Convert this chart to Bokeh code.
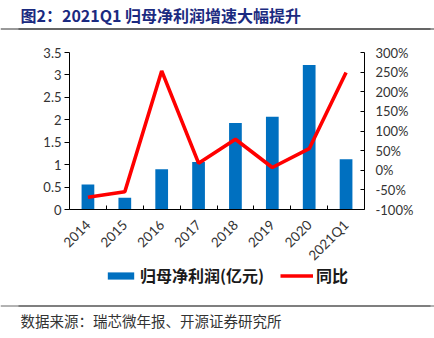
from bokeh.plotting import figure
from bokeh.models import (Range1d, LinearAxis, FixedTicker, SingleIntervalTicker,
                          CustomJSTickFormatter, Legend, LegendItem, ColumnDataSource,
                          Label, Span)
from bokeh.embed import file_html
from bokeh.resources import INLINE
import math

title_text = "图2：2021Q1 归母净利润增速大幅提升"
source_text = "数据来源：瑞芯微年报、开源证券研究所"
categories = ["2014", "2015", "2016", "2017", "2018", "2019", "2020", "2021Q1"]
profit = [0.56, 0.26, 0.90, 1.06, 1.93, 2.07, 3.22, 1.12]
yoy = [-69, -55, 253, 18, 79, 7, 55, 249]
bar_name = "归母净利润(亿元)"
line_name = "同比"

TICK_FONT = "Lato"
CJK = "Noto Sans CJK SC"

# canvas layout (pixels)
W, H = 434, 338
PL, PR, PT, PB = 69, 364, 52, 209          # plot area edges
N = len(categories)
Y_MAX, P_MIN, P_MAX = 3.5, -100, 300

kx = N / (PR - PL)
ky = Y_MAX / (PB - PT)
kp = (P_MAX - P_MIN) / (PB - PT)


def dx(px):
    return (px - PL) * kx


def dy(py):
    return (PB - py) * ky


xs = [i + 0.5 for i in range(N)]
src = ColumnDataSource(dict(x=xs, profit=profit, yoy=yoy))

p = figure(frame_width=W, frame_height=H, min_border=0, output_backend="svg",
           toolbar_location=None,
           x_range=Range1d(dx(0), dx(W)), y_range=Range1d(dy(H), dy(0)),
           x_axis_location=None, y_axis_location=None,
           background_fill_color="white", border_fill_color="white")
p.outline_line_color = None
p.xgrid.visible = False
p.ygrid.visible = False
p.extra_y_ranges = {"pct": Range1d(P_MIN - (H - PB) * kp, P_MAX + PT * kp)}

# page rules (title underline and footer separator)
rules = ColumnDataSource(dict(x0=[dx(18), dx(18)], x1=[dx(430), dx(430)],
                              y=[dy(28.5), dy(305.5)]))
p.segment(x0="x0", x1="x1", y0="y", y1="y", source=rules, line_color="#333333", line_width=1.2)
p.add_layout(Span(location=dy(28.5), dimension="width", line_color="#333333", line_width=1))
p.add_layout(Span(location=dy(305.5), dimension="width", line_color="#666666", line_width=1))

bars = p.vbar(x="x", top="profit", width=0.345, source=src, fill_color="#0070C0", line_color=None)
line = p.line(x="x", y="yoy", source=src, y_range_name="pct", line_color="#FF0000", line_width=3.6)

# x axis
xa = LinearAxis(fixed_location=0, bounds=(0, N),
                ticker=FixedTicker(ticks=xs, minor_ticks=list(range(1, N))),
                formatter=CustomJSTickFormatter(args=dict(labels=categories),
                                                code="return labels[Math.floor(tick)];"))
xa.major_label_orientation = math.pi / 4
xa.major_tick_in = 0
xa.major_tick_out = 0
xa.minor_tick_in = 4
xa.minor_tick_out = 0
xa.minor_tick_line_color = "black"
xa.axis_line_color = "black"
xa.major_label_text_font = TICK_FONT
xa.major_label_text_font_size = "13.5px"
xa.major_label_text_color = "#333333"
xa.major_label_standoff = 13
p.add_layout(xa, "below")

# left axis
ya = LinearAxis(fixed_location=0, bounds=(0, Y_MAX),
                ticker=SingleIntervalTicker(interval=0.5, num_minor_ticks=0),
                formatter=CustomJSTickFormatter(code="return String(Math.round(tick*10)/10);"))
ya.major_tick_in = 0
ya.major_tick_out = 5
ya.minor_tick_in = 0
ya.minor_tick_out = 0
ya.axis_line_color = "black"
ya.major_tick_line_color = "black"
ya.major_label_text_font = TICK_FONT
ya.major_label_text_font_size = "13px"
ya.major_label_text_color = "#333333"
ya.major_label_standoff = 3
p.add_layout(ya, "left")

# right axis
ra = LinearAxis(y_range_name="pct", fixed_location=N, bounds=(P_MIN, P_MAX),
                ticker=SingleIntervalTicker(interval=50, num_minor_ticks=0),
                formatter=CustomJSTickFormatter(code="return Math.round(tick) + '%';"))
ra.major_tick_in = 4
ra.major_tick_out = 0
ra.minor_tick_in = 0
ra.minor_tick_out = 0
ra.axis_line_color = "black"
ra.major_tick_line_color = "black"
ra.major_label_text_font = TICK_FONT
ra.major_label_text_font_size = "13px"
ra.major_label_text_color = "#333333"
ra.major_label_standoff = 11
p.add_layout(ra, "right")

# legend (screen px from frame bottom-left)
legend = Legend(items=[LegendItem(label=bar_name, renderers=[bars]),
                       LegendItem(label=line_name, renderers=[line])],
                orientation="horizontal", location=(104, H - 287),
                glyph_width=33, glyph_height=9, label_standoff=3, spacing=16,
                padding=0, margin=0, border_line_color=None, background_fill_alpha=0,
                label_text_font=CJK, label_text_font_style="bold",
                label_text_font_size="16px", label_text_color="#1a1a1a")
p.add_layout(legend, "center")

# title and source
p.add_layout(Label(x=dx(20), y=dy(14), text=title_text,
                   text_font=CJK, text_font_style="bold", text_font_size="16px",
                   text_color="#1B2A80", text_baseline="middle", text_align="left"))
p.add_layout(Label(x=dx(20), y=dy(320), text=source_text,
                   text_font=CJK, text_font_size="14.5px", text_color="#333333",
                   text_baseline="middle", text_align="left"))

open("out.html", "w").write(file_html(p, INLINE))
